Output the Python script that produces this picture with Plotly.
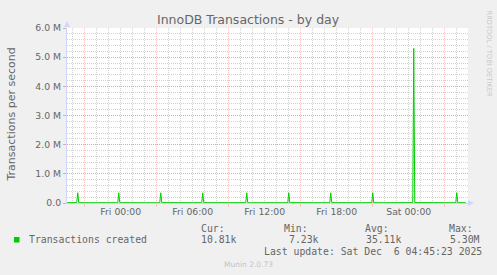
import pandas as pd
import plotly.graph_objects as go

# ---------------- data ----------------
times = [
    "2025-12-04 19:32", "2025-12-04 20:20", "2025-12-04 20:25", "2025-12-04 20:30",
    "2025-12-04 23:45", "2025-12-04 23:50", "2025-12-04 23:55",
    "2025-12-05 03:15", "2025-12-05 03:20", "2025-12-05 03:25",
    "2025-12-05 06:45", "2025-12-05 06:50", "2025-12-05 06:55",
    "2025-12-05 10:25", "2025-12-05 10:30", "2025-12-05 10:35",
    "2025-12-05 13:55", "2025-12-05 14:00", "2025-12-05 14:05",
    "2025-12-05 17:25", "2025-12-05 17:30", "2025-12-05 17:35",
    "2025-12-05 20:55", "2025-12-05 21:00", "2025-12-05 21:05",
    "2025-12-06 00:20", "2025-12-06 00:25", "2025-12-06 00:30",
    "2025-12-06 03:55", "2025-12-06 04:00", "2025-12-06 04:05",
    "2025-12-06 04:45",
]
values = [
    12000, 11000, 350000, 10000,
    9000, 350000, 11000,
    8000, 350000, 12000,
    9000, 350000, 10000,
    11000, 350000, 9000,
    10000, 350000, 12000,
    9000, 350000, 11000,
    10000, 350000, 9000,
    12000, 5300000, 14000,
    9000, 350000, 11000,
    10810,
]
series_name = "Transactions created"
y_tick_vals = [0, 1e6, 2e6, 3e6, 4e6, 5e6, 6e6]
y_tick_text = ["0.0", "1.0 M", "2.0 M", "3.0 M", "4.0 M", "5.0 M", "6.0 M"]
x_tick_vals = ["2025-12-05 00:00", "2025-12-05 06:00", "2025-12-05 12:00",
               "2025-12-05 18:00", "2025-12-06 00:00"]
x_tick_text = ["Fri 00:00", "Fri 06:00", "Fri 12:00", "Fri 18:00", "Sat 00:00"]
x_major_grid = ["2025-12-04 21:00", "2025-12-05 03:00", "2025-12-05 09:00",
                "2025-12-05 15:00", "2025-12-05 21:00", "2025-12-06 03:00"]
x_range = ["2025-12-04 19:31:12", "2025-12-06 04:56:12"]
stat_labels = ["Cur:", "Min:", "Avg:", "Max:"]
stat_values = ["10.81k", "7.23k", "35.11k", "5.30M"]
title = "InnoDB Transactions - by day"
y_title = "Transactions per second"
last_update = "Last update: Sat Dec\u00a0\u00a06 04:45:23 2025"

# ---------------- grid positions ----------------
hours = pd.date_range("2025-12-04 20:00", "2025-12-06 04:00", freq="1h")
skip = set(pd.to_datetime(x_tick_vals)) | set(pd.to_datetime(x_major_grid))
x_minor_vals = [h.strftime("%Y-%m-%d %H:%M") for h in hours if h not in skip]
y_minor_vals = [i * 200000 for i in range(31) if i % 5 != 0]

# ---------------- layout geometry ----------------
W, H = 497, 275
L, R, T, B = 67, 29, 28, 72
PW, PH = W - L - R, H - T - B


def px(x):
    return (x - L) / PW


def py(y):
    return (H - B - y) / PH


FONT = "DejaVu Sans"
MONO = "DejaVu Sans Mono"
FC = "#666666"
GREEN = "#00CC00"
MINOR = "#D2D2D2"
MAJOR = "#EFA4A4"
MAJOR_V = "#F5C6C6"
AXIS = "#CFD6F8"
DASH = "1px,1px"

fig = go.Figure()
fig.add_trace(go.Scatter(x=times, y=values, mode="lines",
                         line=dict(color=GREEN, width=1), name=series_name,
                         hoverinfo="skip"))
fig.add_trace(go.Scatter(x=[], y=[], xaxis="x2", showlegend=False))

fig.update_layout(
    width=W, height=H,
    margin=dict(l=L, r=R, t=T, b=B, pad=0),
    paper_bgcolor="#F0F0F0", plot_bgcolor="#FFFFFF",
    showlegend=False,
    font=dict(family=FONT, size=9.3, color=FC),
    xaxis=dict(
        type="date", range=x_range, tickmode="array",
        tickvals=x_tick_vals, ticktext=x_tick_text,
        showgrid=True, gridcolor=MINOR, griddash=DASH, gridwidth=1,
        minor=dict(tickmode="array", tickvals=x_minor_vals, showgrid=True,
                   gridcolor=MINOR, griddash=DASH, gridwidth=1),
        showline=True, linecolor=AXIS, linewidth=1,
        ticks="", zeroline=False,
        tickfont=dict(family=FONT, size=9.3, color=FC),
    ),
    xaxis2=dict(
        type="date", range=x_range, overlaying="x", anchor="y", side="bottom",
        tickmode="array", tickvals=x_major_grid,
        showgrid=True, gridcolor=MAJOR_V, griddash=DASH, gridwidth=1,
        showticklabels=False, ticks="outside", ticklen=3, tickcolor=MAJOR_V,
        showline=False, zeroline=False,
    ),
    yaxis=dict(
        range=[0, 6e6], tickmode="array", tickvals=y_tick_vals, ticktext=y_tick_text,
        showgrid=True, gridcolor=MAJOR, griddash=DASH, gridwidth=1,
        minor=dict(tickmode="array", tickvals=y_minor_vals, showgrid=True,
                   gridcolor=MINOR, griddash=DASH, gridwidth=1),
        ticks="outside", ticklen=3, tickcolor=MAJOR,
        showline=True, linecolor=AXIS, linewidth=1, zeroline=False,
        tickfont=dict(family=FONT, size=9.3, color=FC),
    ),
)

# arrows on axes
fig.add_shape(type="path", xref="paper", yref="paper",
              path=f"M {px(64)} {py(27)} L {px(67)} {py(21)} L {px(70)} {py(27)} Z",
              fillcolor=AXIS, line=dict(width=0))
fig.add_shape(type="path", xref="paper", yref="paper",
              path=f"M {px(468)} {py(200)} L {px(474)} {py(203)} L {px(468)} {py(206)} Z",
              fillcolor=AXIS, line=dict(width=0))

# legend swatch
fig.add_shape(type="rect", xref="paper", yref="paper",
              x0=px(14), x1=px(19.5), y0=py(242.5), y1=py(237),
              fillcolor=GREEN, line=dict(width=0))

ann = []


def add_text(text, x, y, size, family=FONT, color=FC, xanchor="left", angle=0):
    ann.append(dict(text=text, x=px(x), y=py(y), xref="paper", yref="paper",
                    xanchor=xanchor, yanchor="middle", showarrow=False,
                    textangle=angle, font=dict(family=family, size=size, color=color)))


add_text(title, 248, 19.5, 12.5, xanchor="center")
add_text(y_title, 11, 114.5, 11, xanchor="center", angle=-90)
add_text("RRDTOOL / TOBI OETIKER", 488.5, 53, 6.7, color="#C8C8C8",
         xanchor="center", angle=90)

add_text(series_name, 26.5, 239.5, 9.8, family=MONO)
stat_x = [199.3, 281.7, 363.3, 446.7]
val_x = [199.3, 287.3, 364, 448.3]
for lab, v, xl, xv in zip(stat_labels, stat_values, stat_x, val_x):
    add_text(lab, xl, 228.5, 9.8, family=MONO)
    add_text(v, xv, 239.5, 9.8, family=MONO)
add_text(last_update, 261.7, 251, 9.8, family=MONO)
add_text("Munin 2.0.73", 248, 264.5, 7.5, color="#C4C4C4", xanchor="center")

fig.update_layout(annotations=ann)
fig.write_html("out.html")
